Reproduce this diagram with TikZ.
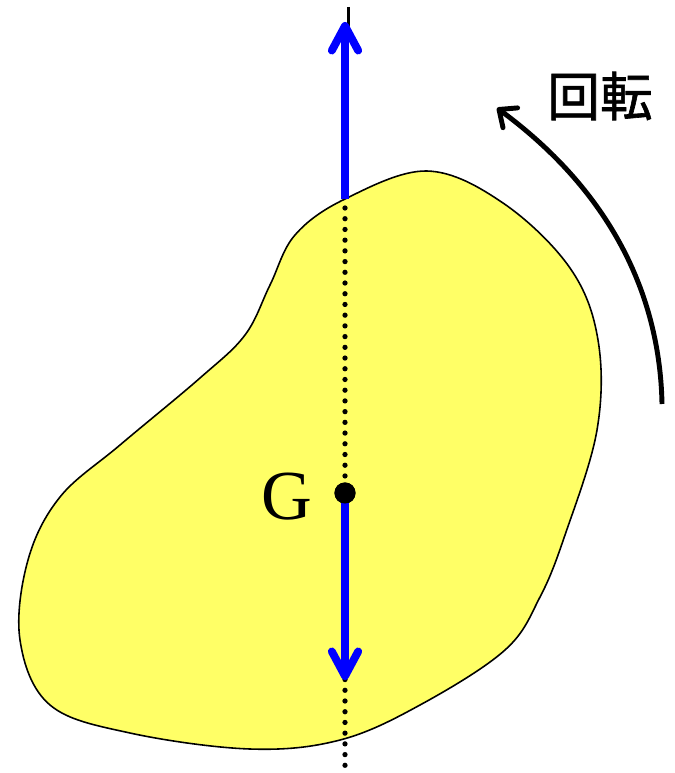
\documentclass[tikz,border=0pt]{standalone}
\usepackage{fontspec}
\setmainfont{Liberation Serif}
\newfontfamily\jpfont[FakeBold=1.2]{Noto Sans CJK JP}
\usetikzlibrary{arrows.meta}

\begin{document}
\begin{tikzpicture}[x=0.02cm,y=-0.02cm,
  force/.style={blue,line width=4.5pt,-{Straight Barb[round,length=14pt,width=15pt]}},
  body/.style={draw=black,line width=0.9pt,fill={rgb,255:red,255;green,255;blue,102}},
  axis/.style={line width=3pt,line cap=round,dash pattern=on 0pt off 6.1pt}]
\useasboundingbox (0,0) rectangle (674,773);
% the body
\filldraw[body] plot[smooth cycle,tension=0.6] coordinates {(345,199) (427,171) (503,203) (570,268) (598,340) (597,430) (565,535) (540,597) (505,650) (420,705) (340,740) (250,749) (130,733) (50,705) (20,640) (28,560) (60,497) (120,445) (200,378) (245,335) (270,285) (295,235)};
\coordinate (ax1) at (345,208); \coordinate (ax2) at (345,770);
\coordinate (top) at (345,199); \coordinate (up) at (345,22); \coordinate (down) at (345,680);
\coordinate (t1) at (348,7); \coordinate (t2) at (348,30);
\coordinate (r1) at (662,404); \coordinate (r2) at (497,108);
\draw[axis] (ax1)--(ax2);
\draw[line width=1.7pt] (t1)--(t2);
\draw[force] (top)--(up);
\node[circle,fill,inner sep=0pt,minimum size=12pt] (G) at (345,493) {};
\draw[force] (G.center)--(down);
\node[circle,fill,inner sep=0pt,minimum size=12pt] at (G) {};
\node[inner sep=0pt,font=\fontsize{40}{42}\selectfont] (Glab) at (287,497) {G};
% rotation
\draw[line width=2.8pt,-{Straight Barb[round,length=8pt,width=14pt]}] (r1) .. controls (660,300) and (615,195) .. (r2);
\node[inner sep=0pt,font=\jpfont\fontsize{30}{32}\selectfont] (rot) at (600,96) {回転};
\end{tikzpicture}
\end{document}
